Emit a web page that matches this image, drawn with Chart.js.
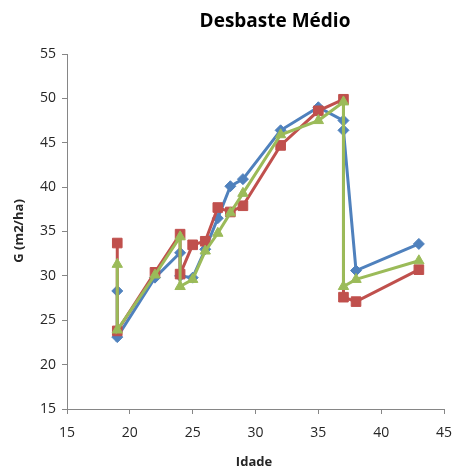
<!DOCTYPE html>
<html>
<head>
<meta charset="utf-8">
<script src="https://cdn.jsdelivr.net/npm/chart.js@4/dist/chart.umd.min.js"></script>
<style>
  html, body { margin: 0; padding: 0; background: #fff; }
  #wrap { width: 455px; height: 474px; position: relative; }
</style>
</head>
<body>
<div id="wrap"><canvas id="c" width="455" height="474"></canvas></div>
<script>
// data
const idade = [19, 19, 22, 24, 24, 25, 26, 27, 28, 29, 32, 35, 37, 37, 38, 43]
const serie1 = [28.3, 23.1, 29.8, 32.6, 30.0, 29.8, 33.0, 36.5, 40.1, 40.9, 46.4, 49.0, 47.5, 46.4, 30.6, 33.6]
const serie2 = [33.7, 23.8, 30.4, 34.7, 30.2, 33.5, 33.9, 37.7, 37.2, 37.9, 44.7, 48.6, 49.9, 27.6, 27.1, 30.7]
const serie3 = [31.3, 23.9, 30.1, 34.4, 28.8, 29.6, 32.8, 34.8, 37.1, 39.3, 45.9, 47.5, 49.6, 28.8, 29.6, 31.7]

const titulo = "Desbaste Médio"
const titulo_x = "Idade"
const titulo_y = "G (m2/ha)"

const axis_color = "#868686"
const txt_color = "#262626"

function pts(ys){
    let r = []
    for (let i = 0; i < idade.length; i++){ r.push({x: idade[i], y: ys[i]}) }
    return r
}

function ds(ys, color, style, rad, ord){
    return {
        data: pts(ys),
        borderColor: color,
        backgroundColor: color,
        borderWidth: 3,
        pointStyle: style,
        pointRadius: rad,
        pointBorderWidth: 1,
        pointHoverRadius: rad,
        showLine: true,
        tension: 0,
        order: ord
    }
}

// titles drawn by hand so they can sit where Excel put them
const textos = {
    id: "textos",
    afterDraw(chart){
        const ctx = chart.ctx
        ctx.save()
        ctx.fillStyle = "#000"
        ctx.textAlign = "center"
        ctx.textBaseline = "middle"
        ctx.font = "bold 19px 'Open Sans'"
        ctx.fillText(titulo, 275, 22)

        ctx.fillStyle = txt_color
        ctx.font = "bold 13px 'Open Sans'"
        ctx.fillText(titulo_x, 254, 462)

        ctx.translate(19, 231)
        ctx.rotate(-Math.PI / 2)
        ctx.fillText(titulo_y, 0, 0)
        ctx.restore()
    }
}

const tick_font = {family: "'Open Sans'", size: 14}

const chart = new Chart(document.getElementById("c").getContext("2d"), {
    type: "line",
    data: {
        datasets: [
            ds(serie1, "#4F81BD", "rectRot", 5.5, 3),
            ds(serie2, "#C0504D", "rect", 6.8, 2),
            ds(serie3, "#9BBB59", "triangle", 6, 1)
        ]
    },
    options: {
        responsive: false,
        animation: false,
        layout: {padding: {left: 0, right: 11, top: 54, bottom: 0}},
        plugins: {
            legend: {display: false},
            title: {display: false},
            tooltip: {enabled: false}
        },
        scales: {
            x: {
                type: "linear",
                min: 15, max: 45,
                ticks: {stepSize: 5, color: txt_color, font: tick_font, padding: 11, maxRotation: 0},
                grid: {drawOnChartArea: false, drawTicks: true, tickLength: 5, color: axis_color},
                border: {color: axis_color, width: 1},
                afterFit: s => { s.height = 65; s.paddingLeft = 0; s.paddingRight = 0 }
            },
            y: {
                type: "linear",
                min: 15, max: 55,
                ticks: {stepSize: 5, color: txt_color, font: tick_font, padding: 6},
                grid: {drawOnChartArea: false, drawTicks: true, tickLength: 5, color: axis_color},
                border: {color: axis_color, width: 1},
                afterFit: s => { s.width = 67; s.paddingTop = 0; s.paddingBottom = 0 }
            }
        }
    },
    plugins: [textos]
})
</script>
</body>
</html>
